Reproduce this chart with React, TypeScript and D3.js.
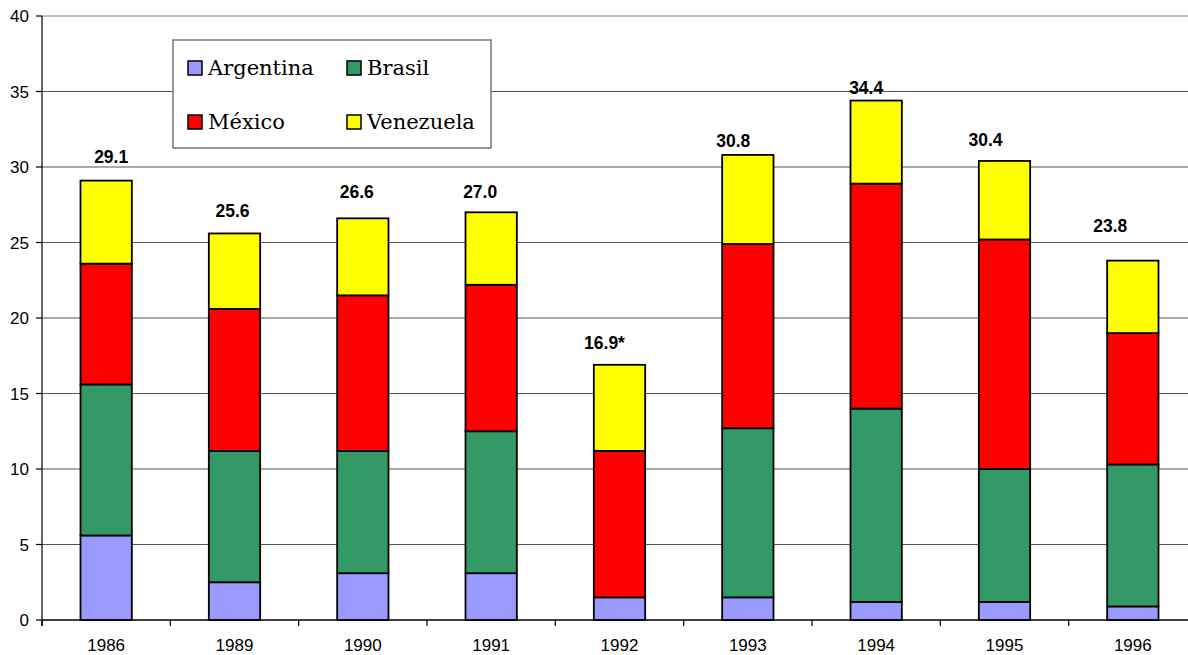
import React from "react";
import * as d3 from "d3";

// Yearly volumes per country (stacked bottom → top)
const years = ["1986", "1989", "1990", "1991", "1992", "1993", "1994", "1995", "1996"];
const argentina = [5.6, 2.5, 3.1, 3.1, 1.5, 1.5, 1.2, 1.2, 0.9];
const brasil = [10.0, 8.7, 8.1, 9.4, 0, 11.2, 12.8, 8.8, 9.4];
const mexico = [8.0, 9.4, 10.3, 9.7, 9.7, 12.2, 14.9, 15.2, 8.7];
const venezuela = [5.5, 5.0, 5.1, 4.8, 5.7, 5.9, 5.5, 5.2, 4.8];
const footnotes = ["", "", "", "", "*", "", "", "", ""];
const yTicks = [0, 5, 10, 15, 20, 25, 30, 35, 40];

const seriesNames = ["Argentina", "Brasil", "México", "Venezuela"];
const seriesValues = [argentina, brasil, mexico, venezuela];
const seriesColors = ["#9999FF", "#339966", "#FF0000", "#FFFF00"];

// Hand-placed total labels: horizontal shift and gap above the bar top (px)
const labelDx = [5, -2, -6, -11, -15, -14.5, -10, -19, -22.5];
const labelGap = [18, 16, 20, 14, 16, 8, 7, 15, 29];

const W = 1188;
const H = 655;
const left = 42;
const right = 1197;
const top = 16;
const bottom = 620;

export default function App() {
  const rows = years.map((year, i) => {
    const r: Record<string, number | string> = { year };
    seriesNames.forEach((n, s) => (r[n] = seriesValues[s][i]));
    return r;
  });
  const stacked = d3.stack<any>().keys(seriesNames)(rows);

  const x = d3
    .scaleBand<string>()
    .domain(years)
    .range([left, right])
    .paddingInner(0.6)
    .paddingOuter(0.3);
  const y = d3.scaleLinear().domain([0, 40]).range([bottom, top]);
  const step = x.step();

  const totals = years.map((_, i) => seriesValues.reduce((a, s) => a + s[i], 0));

  const legendItems = [
    { i: 0, lx: 188, ly: 61 },
    { i: 1, lx: 347, ly: 61 },
    { i: 2, lx: 188, ly: 115 },
    { i: 3, lx: 347, ly: 115 },
  ];

  return (
    <svg
      width={W}
      height={H}
      style={{ position: "absolute", left: 0, top: 0, background: "#fff" }}
    >
      {/* gridlines */}
      {yTicks.slice(1).map((t) => (
        <line
          key={"g" + t}
          x1={left}
          x2={W}
          y1={y(t)}
          y2={y(t)}
          stroke={t === 40 ? "#888" : "#555"}
          strokeWidth={1.2}
        />
      ))}

      {/* y axis */}
      <line x1={left} x2={left} y1={top} y2={bottom + 6} stroke="#000" strokeWidth={1.2} />
      {yTicks.map((t) => (
        <g key={"yt" + t}>
          <line x1={left - 6} x2={left} y1={y(t)} y2={y(t)} stroke="#000" strokeWidth={1.2} />
          <text
            x={29}
            y={y(t)}
            dy="0.36em"
            textAnchor="end"
            fontFamily="Liberation Sans, Arial, sans-serif"
            fontSize={17}
            fill="#000"
          >
            {t}
          </text>
        </g>
      ))}

      {/* x axis */}
      <line x1={left} x2={W} y1={bottom} y2={bottom} stroke="#000" strokeWidth={1.4} />
      {d3.range(years.length + 1).map((k) => (
        <line
          key={"xt" + k}
          x1={left + k * step}
          x2={left + k * step}
          y1={bottom}
          y2={bottom + 6}
          stroke="#000"
          strokeWidth={1.2}
        />
      ))}
      {years.map((yr) => (
        <text
          key={"xl" + yr}
          x={(x(yr) as number) + x.bandwidth() / 2}
          y={651}
          textAnchor="middle"
          fontFamily="Liberation Sans, Arial, sans-serif"
          fontSize={17}
          fill="#000"
        >
          {yr}
        </text>
      ))}

      {/* stacked bars */}
      {stacked.map((layer, s) => (
        <g key={"s" + s}>
          {layer.map((d, i) =>
            d[1] - d[0] > 0 ? (
              <rect
                key={i}
                x={x(years[i]) as number}
                y={y(d[1])}
                width={x.bandwidth()}
                height={y(d[0]) - y(d[1])}
                fill={seriesColors[s]}
                stroke="#000"
                strokeWidth={1.8}
              />
            ) : null
          )}
        </g>
      ))}

      {/* totals */}
      {years.map((yr, i) => (
        <text
          key={"tot" + yr}
          x={(x(yr) as number) + x.bandwidth() / 2 + labelDx[i]}
          y={y(totals[i]) - labelGap[i]}
          textAnchor="middle"
          fontFamily="Liberation Sans, Arial, sans-serif"
          fontWeight="bold"
          fontSize={17.5}
          fill="#000"
        >
          {totals[i].toFixed(1) + footnotes[i]}
        </text>
      ))}

      {/* legend */}
      <rect x={173} y={40} width={318} height={108} fill="#fff" stroke="#777" strokeWidth={1.5} />
      {legendItems.map(({ i, lx, ly }) => (
        <g key={"lg" + i}>
          <rect x={lx} y={ly} width={14} height={14} fill={seriesColors[i]} stroke="#000" strokeWidth={1.5} />
          <text
            x={lx + 20}
            y={ly + 14}
            fontFamily="DejaVu Serif, serif"
            fontSize={21}
            fill="#000"
          >
            {seriesNames[i]}
          </text>
        </g>
      ))}
    </svg>
  );
}
